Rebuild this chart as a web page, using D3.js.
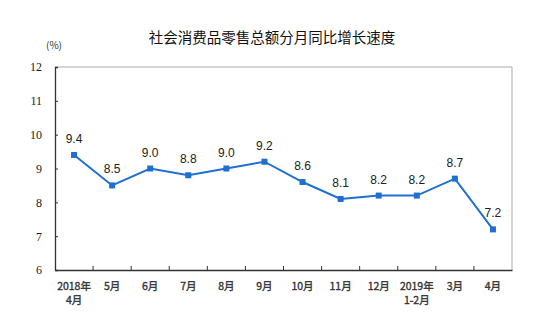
<!DOCTYPE html>
<html><head><meta charset="utf-8">
<script src="https://cdn.jsdelivr.net/npm/d3@7"></script>
<style>body{margin:0;background:#fff}</style>
</head><body>
<svg id="c" width="554" height="334"></svg>
<script>
const categories = [["2018年","4月"],["5月"],["6月"],["7月"],["8月"],["9月"],["10月"],["11月"],["12月"],["2019年","1-2月"],["3月"],["4月"]];
const values = [9.4, 8.5, 9.0, 8.8, 9.0, 9.2, 8.6, 8.1, 8.2, 8.2, 8.7, 7.2];
const yTicks = [6, 7, 8, 9, 10, 11, 12];
const title = "社会消费品零售总额分月同比增长速度";
const unit = "(%)";

const svg = d3.select("#c");
const m = {l:55, r:512, t:67, b:270};
const x = d3.scaleBand().domain(d3.range(categories.length)).range([m.l, m.r]);
const y = d3.scaleLinear().domain([6, 12]).range([m.b, m.t]);
const cjk = "'Noto Sans CJK SC', sans-serif";

svg.append("text").attr("x", 272).attr("y", 43).attr("text-anchor","middle")
  .attr("font-family", cjk).attr("font-size", 14.5).attr("fill","#111").text(title);
svg.append("text").attr("x", 54).attr("y", 49).attr("text-anchor","middle")
  .attr("font-family", cjk).attr("font-size", 10).attr("fill","#333").text(unit);

// frame top/right
svg.append("path").attr("d", `M${m.l},${m.t}H${m.r}V${m.b}`).attr("fill","none").attr("stroke","#aaa").attr("stroke-width",1);

// y axis
const ya = svg.append("g").attr("transform",`translate(${m.l},0)`)
  .call(d3.axisLeft(y).tickValues(yTicks).tickSize(-3).tickPadding(13).tickFormat(d3.format("d")));
ya.select(".domain").attr("stroke","#333").attr("stroke-width",1.3);
ya.selectAll(".tick line").attr("stroke","#333");
ya.selectAll(".tick text").attr("font-family","'Liberation Serif', serif").attr("font-size",12).attr("fill","#222");

// x axis
const xa = svg.append("g").attr("transform",`translate(0,${m.b})`)
  .call(d3.axisBottom(x).tickSize(0).tickFormat(""));
xa.select(".domain").attr("stroke","#333").attr("stroke-width",1.3);
const bounds = d3.range(1, categories.length).map(i => x(i));
xa.selectAll(".bt").data(bounds).join("line").attr("class","bt")
  .attr("x1", d=>d).attr("x2", d=>d).attr("y1", 0).attr("y2", -4).attr("stroke","#333");
xa.selectAll(".lbl").data(categories).join("text").attr("class","lbl")
  .attr("text-anchor","middle").attr("font-family", cjk).attr("font-size",10.5).attr("fill","#333")
  .attr("stroke","#333").attr("stroke-width",0.35)
  .each(function(d,i){
    const t = d3.select(this);
    d.forEach((s,j)=> t.append("tspan").attr("x", x(i)+x.bandwidth()/2).attr("y", 20 + j*14).text(s));
  });

const cx = i => x(i) + x.bandwidth()/2;
const line = d3.line().x((d,i)=>cx(i)).y(d=>y(d));
svg.append("path").datum(values).attr("d", line).attr("fill","none").attr("stroke","#1f6fd1").attr("stroke-width",2);
svg.selectAll(".pt").data(values).join("rect").attr("class","pt")
  .attr("x",(d,i)=>cx(i)-3).attr("y",d=>y(d)-3).attr("width",6).attr("height",6).attr("fill","#1f6fd1");
svg.selectAll(".vl").data(values).join("text").attr("class","vl")
  .attr("x",(d,i)=>cx(i)).attr("y",d=>y(d)-12).attr("text-anchor","middle")
  .attr("font-family","'Liberation Sans', Arial, sans-serif").attr("font-size",12).attr("fill","#222")
  .text(d=>d.toFixed(1));
</script>
</body></html>
